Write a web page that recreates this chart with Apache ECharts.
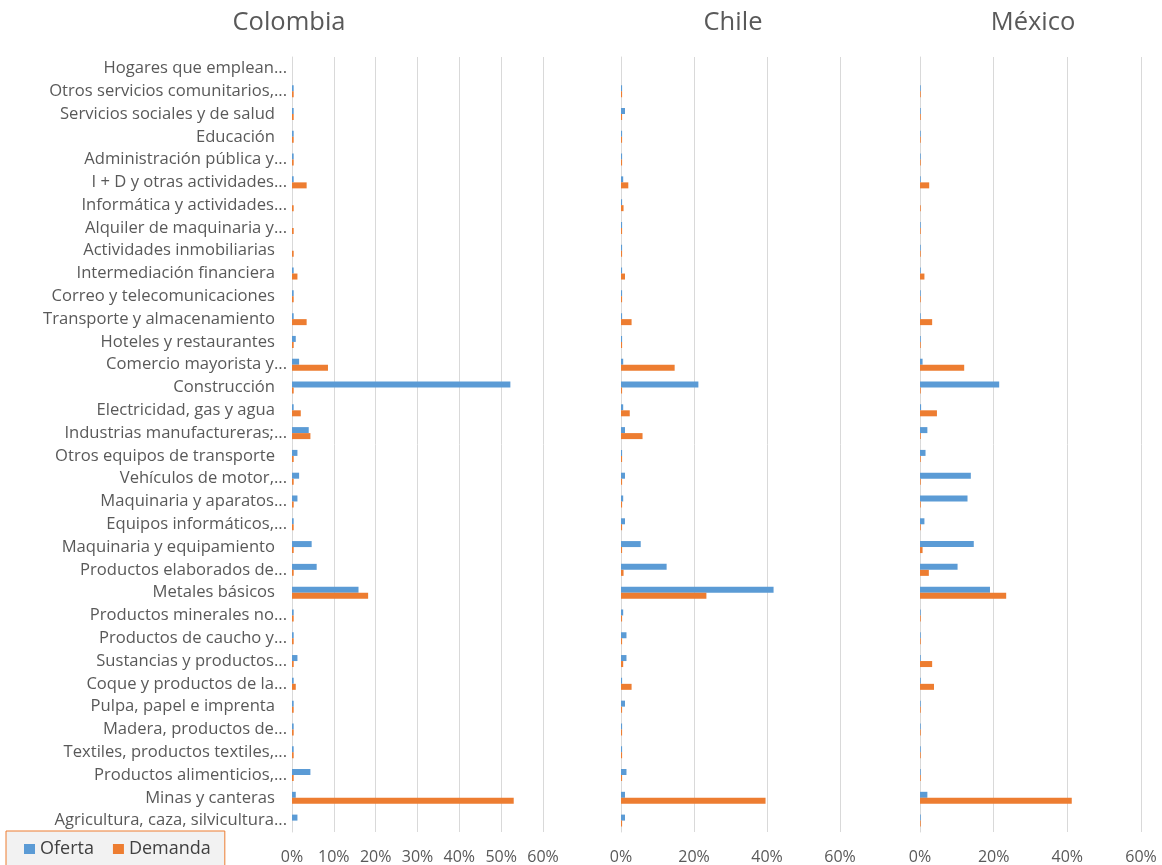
<!DOCTYPE html>
<html>
<head>
<meta charset="utf-8">
<script src="https://cdn.jsdelivr.net/npm/echarts@6/dist/echarts.min.js"></script>
<style>
  html, body { margin: 0; padding: 0; background: #ffffff; }
  #chart { width: 1162px; height: 865px; }
</style>
</head>
<body>
<div id="chart"></div>
<script>
// Sectores, listed from top to bottom
const sectores = [
  'Hogares que emplean...',
  'Otros servicios comunitarios,...',
  'Servicios sociales y de salud',
  'Educación',
  'Administración pública y...',
  'I + D y otras actividades...',
  'Informática y actividades...',
  'Alquiler de maquinaria y...',
  'Actividades inmobiliarias',
  'Intermediación financiera',
  'Correo y telecomunicaciones',
  'Transporte y almacenamiento',
  'Hoteles y restaurantes',
  'Comercio mayorista y...',
  'Construcción',
  'Electricidad, gas y agua',
  'Industrias manufactureras;...',
  'Otros equipos de transporte',
  'Vehículos de motor,...',
  'Maquinaria y aparatos...',
  'Equipos informáticos,...',
  'Maquinaria y equipamiento',
  'Productos elaborados de...',
  'Metales básicos',
  'Productos minerales no...',
  'Productos de caucho y...',
  'Sustancias y productos...',
  'Coque y productos de la...',
  'Pulpa, papel e imprenta',
  'Madera, productos de...',
  'Textiles, productos textiles,...',
  'Productos alimenticios,...',
  'Minas y canteras',
  'Agricultura, caza, silvicultura...'
];

const paises = ['Colombia', 'Chile', 'México'];

// Shares in percent, same order as sectores
const colombiaOferta  = [0, 0.4, 0.4, 0.4, 0.4, 0.4, 0, 0, 0, 0.4, 0.4, 0.4, 0.9, 1.7, 52.2, 0.4, 4.0, 1.3, 1.7, 1.3, 0.4, 4.7, 5.9, 15.9, 0.4, 0.4, 1.3, 0.4, 0.4, 0.4, 0.4, 4.4, 0.9, 1.3];
const colombiaDemanda = [0, 0.4, 0.4, 0.4, 0.4, 3.5, 0.4, 0.4, 0.4, 1.3, 0.4, 3.5, 0.4, 8.6, 0.4, 2.1, 4.4, 0.4, 0.4, 0.4, 0.4, 0.4, 0.4, 18.2, 0.4, 0.4, 0.4, 0.9, 0.4, 0.4, 0.4, 0.4, 53.0, 0];

const chileOferta  = [0, 0.3, 1.1, 0.3, 0.3, 0.6, 0.3, 0.3, 0.3, 0.3, 0.3, 0.3, 0.3, 0.6, 21.2, 0.6, 1.1, 0.3, 1.1, 0.6, 1.1, 5.4, 12.5, 41.8, 0.6, 1.5, 1.5, 0.3, 1.1, 0.3, 0.3, 1.5, 1.1, 1.1];
const chileDemanda = [0, 0.3, 0.3, 0.3, 0.3, 2.0, 0.7, 0.3, 0.3, 1.1, 0.3, 2.9, 0.3, 14.7, 0.3, 2.4, 5.9, 0.3, 0.3, 0.3, 0.3, 0.3, 0.7, 23.4, 0.3, 0.3, 0.6, 2.9, 0.3, 0.3, 0.3, 0.3, 39.6, 0.3];

const mexicoOferta  = [0, 0.2, 0.2, 0.2, 0.2, 0.2, 0, 0.2, 0.2, 0.2, 0.2, 0.2, 0.2, 0.7, 21.5, 0.3, 2.0, 1.5, 13.8, 12.9, 1.2, 14.6, 10.2, 19.0, 0.2, 0.2, 0.2, 0.2, 0.2, 0.2, 0.2, 0.2, 2.0, 0.2];
const mexicoDemanda = [0, 0.2, 0.2, 0.2, 0.2, 2.5, 0.2, 0.2, 0.2, 1.2, 0.2, 3.3, 0.2, 12.0, 0.2, 4.6, 0.2, 0.2, 0.2, 0.2, 0.2, 0.7, 2.4, 23.4, 0.2, 0.2, 3.3, 3.8, 0.2, 0.2, 0.2, 0.2, 41.2, 0.2];

// Axis ticks per panel
const ejeMax = [60, 60, 60];
const ejeIntervalo = [10, 20, 20];

const AZUL = '#5B9BD5';
const NARANJA = '#ED7D31';
const GRIS_TEXTO = '#595959';
const GRIS_LINEA = '#d9d9d9';
const FUENTE = '"Open Sans", "Noto Sans", sans-serif';

const paneles = [
  { left: 292, width: 251, titleX: 284 },
  { left: 621, width: 219, titleX: 728 },
  { left: 920, width: 221, titleX: 1028 }
];
const datos = [
  [colombiaOferta, colombiaDemanda],
  [chileOferta, chileDemanda],
  [mexicoOferta, mexicoDemanda]
];

const chart = echarts.init(document.getElementById('chart'), null, { renderer: 'canvas' });

const option = {
  animation: false,
  backgroundColor: '#ffffff',
  title: paneles.map((p, i) => ({
    text: paises[i],
    left: p.titleX,
    top: 5,
    textAlign: 'center',
    textStyle: { fontFamily: FUENTE, fontSize: 25.5, fontWeight: 'normal', color: GRIS_TEXTO }
  })),
  legend: {
    data: ['Oferta', 'Demanda'],
    left: 6,
    top: 831,
    icon: 'rect',
    itemWidth: 11,
    itemHeight: 10,
    itemGap: 19,
    padding: [9, 14, 12, 18],
    backgroundColor: '#f2f2f2',
    borderColor: NARANJA,
    borderWidth: 1,
    textStyle: { fontFamily: FUENTE, fontSize: 18, color: '#404040' }
  },
  grid: paneles.map(p => ({ left: p.left, width: p.width, top: 57, height: 775.5 })),
  xAxis: paneles.map((p, i) => ({
    type: 'value',
    gridIndex: i,
    min: 0,
    max: ejeMax[i],
    interval: ejeIntervalo[i],
    axisLine: { show: false },
    axisTick: { show: false },
    splitLine: { lineStyle: { color: GRIS_LINEA, width: 1 } },
    axisLabel: {
      formatter: '{value}%',
      color: GRIS_TEXTO,
      fontFamily: FUENTE,
      fontSize: 16,
      margin: 17
    }
  })),
  yAxis: paneles.map((p, i) => ({
    type: 'category',
    gridIndex: i,
    data: sectores,
    inverse: true,
    axisLine: { show: true, lineStyle: { color: GRIS_LINEA } },
    axisTick: { show: false },
    axisLabel: {
      show: i === 0,
      interval: 0,
      margin: 5,
      color: GRIS_TEXTO,
      fontFamily: FUENTE,
      fontSize: 16.6,
      formatter: v => v.endsWith('...') ? v : v + '{pad|}',
      rich: { pad: { width: 12 } }
    }
  })),
  series: []
};

datos.forEach((par, i) => {
  option.series.push({
    name: 'Oferta',
    type: 'bar',
    xAxisIndex: i,
    yAxisIndex: i,
    data: par[0],
    barWidth: 6,
    barGap: '0%',
    itemStyle: { color: AZUL }
  });
  option.series.push({
    name: 'Demanda',
    type: 'bar',
    xAxisIndex: i,
    yAxisIndex: i,
    data: par[1],
    barWidth: 6,
    barGap: '0%',
    itemStyle: { color: NARANJA }
  });
});

chart.setOption(option);
</script>
</body>
</html>
